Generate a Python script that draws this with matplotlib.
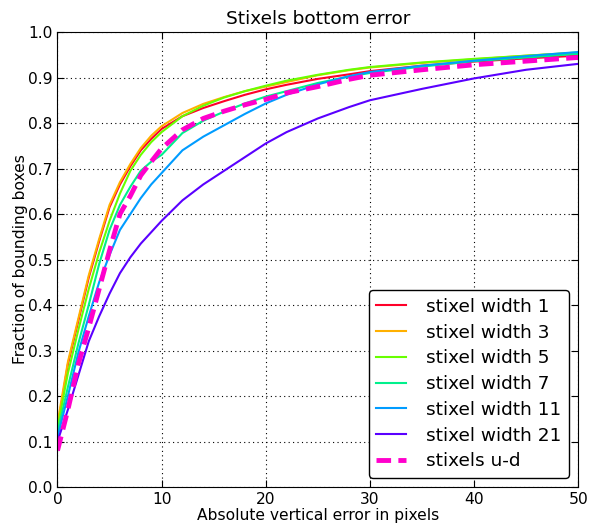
import matplotlib
matplotlib.use("Agg")
import matplotlib.pyplot as plt

# error thresholds (pixels)
err_px = [0, 1, 2, 3, 4, 5, 6, 7, 8, 9, 10, 12, 14, 16, 18, 20, 22, 25, 28, 30, 35, 40, 45, 50]

# fraction of bounding boxes within error, per method
w1 = [0.13, 0.27, 0.365, 0.46, 0.54, 0.615, 0.665, 0.705, 0.74, 0.765, 0.787, 0.815, 0.833, 0.848,
      0.862, 0.874, 0.884, 0.897, 0.907, 0.914, 0.926, 0.935, 0.942, 0.948]
w3 = [0.14, 0.275, 0.37, 0.465, 0.545, 0.62, 0.67, 0.71, 0.745, 0.772, 0.793, 0.822, 0.842, 0.857,
      0.87, 0.88, 0.89, 0.905, 0.916, 0.922, 0.932, 0.94, 0.948, 0.954]
w5 = [0.13, 0.25, 0.345, 0.435, 0.515, 0.585, 0.645, 0.695, 0.73, 0.758, 0.78, 0.815, 0.838, 0.856,
      0.87, 0.882, 0.893, 0.906, 0.917, 0.923, 0.933, 0.941, 0.948, 0.955]
w7 = [0.12, 0.22, 0.315, 0.40, 0.49, 0.565, 0.62, 0.66, 0.695, 0.715, 0.73, 0.778, 0.805, 0.825,
      0.843, 0.858, 0.87, 0.888, 0.902, 0.91, 0.924, 0.936, 0.944, 0.952]
w11 = [0.11, 0.20, 0.295, 0.375, 0.45, 0.51, 0.565, 0.60, 0.635, 0.665, 0.69, 0.74, 0.77, 0.795,
       0.82, 0.843, 0.862, 0.885, 0.903, 0.912, 0.926, 0.937, 0.947, 0.956]
w21 = [0.10, 0.17, 0.245, 0.32, 0.375, 0.425, 0.47, 0.505, 0.535, 0.56, 0.585, 0.63, 0.665, 0.695,
       0.725, 0.755, 0.78, 0.81, 0.835, 0.85, 0.875, 0.898, 0.917, 0.93]
ud = [0.08, 0.17, 0.27, 0.35, 0.435, 0.52, 0.60, 0.64, 0.685, 0.715, 0.744, 0.785, 0.81, 0.826,
      0.84, 0.852, 0.866, 0.88, 0.896, 0.905, 0.917, 0.928, 0.936, 0.944]

labels = ["stixel width 1", "stixel width 3", "stixel width 5", "stixel width 7",
          "stixel width 11", "stixel width 21"]
colors = ["#ff0029", "#ffb000", "#68ff00", "#00f08c", "#009cff", "#5a00ff"]

fig = plt.figure(figsize=(5.89, 5.23), dpi=100)
ax = fig.add_axes([0.0976, 0.0688, 0.884, 0.870])

for y, lab, c in zip([w1, w3, w5, w7, w11, w21], labels, colors):
    ax.plot(err_px, y, color=c, lw=1.5, label=lab)
ax.plot(err_px, ud, color="#ff00cc", lw=3.5, ls="--", dashes=(3, 1.5), label="stixels u-d")

ax.set_xlim(0, 50)
ax.set_ylim(0, 1)
ax.set_yticks([i / 10 for i in range(11)])
ax.grid(True, ls=(0, (1, 3)), color="black", lw=0.8)
ax.tick_params(direction="in", top=True, right=True, labelsize=11.2, length=5)
ax.set_xlabel("Absolute vertical error in pixels", fontsize=11.2, labelpad=1)
ax.set_ylabel("Fraction of bounding boxes", fontsize=11.2, labelpad=0)
ax.set_title("Stixels bottom error", fontsize=13.3, pad=6)

leg = ax.legend(loc="lower right", fontsize=13.3, fancybox=True, handlelength=1.6,
                handletextpad=1.1, labelspacing=0.42, borderaxespad=0.5)
leg.get_frame().set_edgecolor("black")
leg.get_frame().set_alpha(1)

fig.savefig("out.png", dpi=100)
